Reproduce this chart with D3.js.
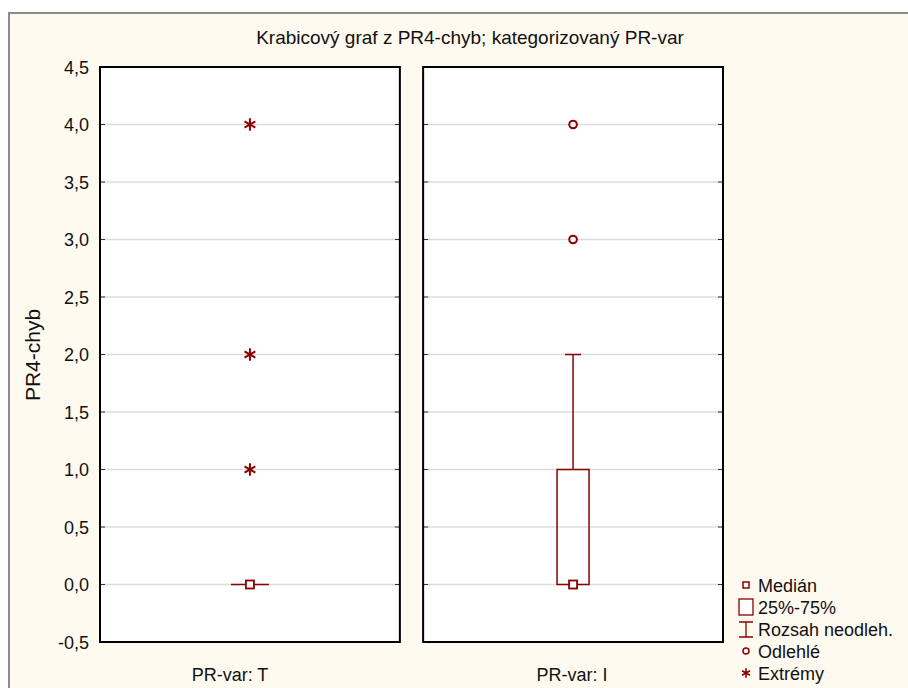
<!DOCTYPE html>
<html>
<head>
<meta charset="utf-8">
<script src="https://cdn.jsdelivr.net/npm/d3@7"></script>
<style>
  body { margin: 0; background: #fff; }
  svg text { font-family: "Liberation Sans", Arial, sans-serif; fill: #111; }
</style>
</head>
<body>
<svg width="908" height="688"></svg>
<script>
// data
const groups = ["PR-var: T", "PR-var: I"];
const medians = [0, 0];
const q1 = [0, 0];
const q3 = [0, 1];
const whiskLo = [0, 0];
const whiskHi = [0, 2];
const outliers = [[], [3, 4]];
const extremes = [[1, 2, 4], []];
const yTicks = [-0.5, 0, 0.5, 1, 1.5, 2, 2.5, 3, 3.5, 4, 4.5];
const legendLabels = ["Medián", "25%-75%", "Rozsah neodleh.", "Odlehlé", "Extrémy"];

const red = "#8b0000";
const fmt = d => d3.format(".1f")(d).replace(".", ",").replace("−", "-");

let svg = d3.select("svg");

// outer frame
svg.append("rect").attr("x", 9).attr("y", 13).attr("width", 905).attr("height", 690)
  .attr("fill", "#fffaf0").attr("stroke", "#8c8c8c").attr("stroke-width", 2);

svg.append("text").attr("x", 470).attr("y", 44).attr("text-anchor", "middle")
  .style("font-size", "19px").text("Krabicový graf z PR4-chyb; kategorizovaný PR-var");

let y = d3.scaleLinear().domain([-0.5, 4.5]).range([642, 67]);

let panels = d3.scaleBand().domain(groups).range([100, 723]).paddingInner(0.072);

// y axis labels
svg.append("g").selectAll("text").data(yTicks).enter().append("text")
  .attr("x", 89).attr("y", d => y(d) + 6.5).attr("text-anchor", "end")
  .style("font-size", "18px").text(fmt);

svg.append("text").attr("transform", "translate(40,355) rotate(-90)")
  .attr("text-anchor", "middle").style("font-size", "21px").text("PR4-chyb");

groups.forEach(function(g, i) {
  let x0 = panels(g), w = panels.bandwidth(), cx = x0 + w / 2;
  let p = svg.append("g");

  p.append("rect").attr("x", x0).attr("y", y(4.5)).attr("width", w).attr("height", y(-0.5) - y(4.5))
    .attr("fill", "#fff");

  // gridlines
  p.selectAll("line.grid").data(yTicks.slice(1, -1)).enter().append("line")
    .attr("x1", x0).attr("x2", x0 + w).attr("y1", d => y(d)).attr("y2", d => y(d))
    .attr("stroke", "#dcdcdc").attr("stroke-width", 1.5);

  // inner ticks both sides
  p.selectAll("line.tl").data(yTicks.slice(1, -1)).enter().append("line")
    .attr("x1", x0).attr("x2", x0 + 5).attr("y1", d => y(d)).attr("y2", d => y(d))
    .attr("stroke", "#333").attr("stroke-width", 1);
  p.selectAll("line.tr").data(yTicks.slice(1, -1)).enter().append("line")
    .attr("x1", x0 + w - 5).attr("x2", x0 + w).attr("y1", d => y(d)).attr("y2", d => y(d))
    .attr("stroke", "#333").attr("stroke-width", 1);

  // whisker
  if (whiskHi[i] > q3[i]) {
    p.append("line").attr("x1", cx).attr("x2", cx).attr("y1", y(q3[i])).attr("y2", y(whiskHi[i]))
      .attr("stroke", red).attr("stroke-width", 1.5);
    p.append("line").attr("x1", cx - 8).attr("x2", cx + 8).attr("y1", y(whiskHi[i])).attr("y2", y(whiskHi[i]))
      .attr("stroke", red).attr("stroke-width", 1.5);
  }

  // box (flat box drawn as a line)
  if (q3[i] > q1[i]) {
    p.append("rect").attr("x", cx - 16).attr("y", y(q3[i]))
      .attr("width", 32).attr("height", y(q1[i]) - y(q3[i]))
      .attr("fill", "none").attr("stroke", red).attr("stroke-width", 1.5);
  } else {
    p.append("line").attr("x1", cx - 19).attr("x2", cx + 19).attr("y1", y(q1[i])).attr("y2", y(q1[i]))
      .attr("stroke", red).attr("stroke-width", 1.5);
  }

  // median
  p.append("rect").attr("x", cx - 4).attr("y", y(medians[i]) - 4).attr("width", 8).attr("height", 8)
    .attr("fill", "#fff").attr("stroke", red).attr("stroke-width", 1.8);

  p.selectAll("circle").data(outliers[i]).enter().append("circle")
    .attr("cx", cx).attr("cy", d => y(d)).attr("r", 3.8)
    .attr("fill", "#fff").attr("stroke", red).attr("stroke-width", 2);

  p.selectAll("path.ext").data(extremes[i]).enter().append("path")
    .attr("d", d3.symbol(d3.symbolAsterisk, 110))
    .attr("transform", d => "translate(" + cx + "," + y(d) + ")")
    .attr("fill", "none").attr("stroke", red).attr("stroke-width", 2);

  p.append("rect").attr("x", x0).attr("y", y(4.5)).attr("width", w).attr("height", y(-0.5) - y(4.5))
    .attr("fill", "none").attr("stroke", "#000").attr("stroke-width", 2);

  svg.append("text").attr("x", i == 0 ? 230 : 572).attr("y", 681).attr("text-anchor", "middle")
    .style("font-size", "18px").text(g);
});

// legend
let lg = svg.append("g");
let ly = d3.scaleBand().domain(legendLabels).range([574, 684]);
legendLabels.forEach(function(t, i) {
  let yy = ly(t) + ly.bandwidth() / 2;
  let sx = 746;
  if (i == 0) lg.append("rect").attr("x", sx - 3).attr("y", yy - 3).attr("width", 6).attr("height", 6)
    .attr("fill", "#fff").attr("stroke", red).attr("stroke-width", 1.5);
  if (i == 1) lg.append("rect").attr("x", sx - 7).attr("y", yy - 8).attr("width", 14).attr("height", 16)
    .attr("fill", "#fff").attr("stroke", red).attr("stroke-width", 1.3);
  if (i == 2) lg.append("path").attr("d", "M" + (sx - 7) + "," + (yy - 7) + "H" + (sx + 7) + "M" + sx + "," + (yy - 7) + "V" + (yy + 8) + "M" + (sx - 7) + "," + (yy + 8) + "H" + (sx + 7))
    .attr("stroke", red).attr("stroke-width", 1.3).attr("fill", "none");
  if (i == 3) lg.append("circle").attr("cx", sx).attr("cy", yy).attr("r", 3)
    .attr("fill", "#fff").attr("stroke", red).attr("stroke-width", 1.5);
  if (i == 4) lg.append("path").attr("d", d3.symbol(d3.symbolAsterisk, 60))
    .attr("transform", "translate(" + sx + "," + yy + ")")
    .attr("stroke", red).attr("stroke-width", 1.6).attr("fill", "none");
  lg.append("text").attr("x", 758).attr("y", yy + 6.5).style("font-size", "18px").text(t);
});
</script>
</body>
</html>
